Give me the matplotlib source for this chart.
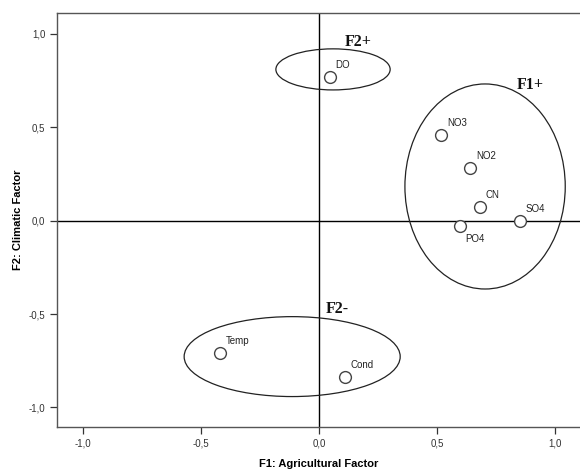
import matplotlib
matplotlib.use("Agg")
import matplotlib.pyplot as plt
from matplotlib.patches import Ellipse
from matplotlib.ticker import FuncFormatter

# Data
labels = ["DO", "NO3", "NO2", "CN", "SO4", "PO4", "Temp", "Cond"]
f1 = [0.047, 0.518, 0.640, 0.682, 0.850, 0.596, -0.419, 0.109]
f2 = [0.771, 0.461, 0.282, 0.071, -0.004, -0.027, -0.711, -0.839]

group_names = ["F2+", "F1+", "F2-"]
group_cx = [0.059, 0.703, -0.114]
group_cy = [0.810, 0.183, -0.728]
group_w = [0.484, 0.679, 0.915]
group_h = [0.220, 1.098, 0.428]

xticks = [-1.0, -0.5, 0.0, 0.5, 1.0]
yticks = [-1.0, -0.5, 0.0, 0.5, 1.0]

fig = plt.figure(figsize=(5.8, 4.7), dpi=100)
ax = fig.add_axes([57/580, 43/470, 523/580, 414/470])
ax.set_xlim(-1.11, 1.105)
ax.set_ylim(-1.105, 1.112)

ax.axhline(0, color="black", lw=1.0, zorder=1)
ax.axvline(0, color="black", lw=1.0, zorder=1)

for cx, cy, w, h in zip(group_cx, group_cy, group_w, group_h):
    ax.add_patch(Ellipse((cx, cy), w, h, fill=False, edgecolor="#222222", lw=0.9, zorder=2))

ax.plot(f1, f2, linestyle="none", marker="o", markersize=8.5, markerfacecolor="white",
        markeredgecolor="#444444", markeredgewidth=1.0, zorder=3)

for lab, x, y in zip(labels, f1, f2):
    if lab == "PO4":
        ax.annotate(lab, (x, y), xytext=(4, -6), textcoords="offset points",
                    fontsize=7, family="Liberation Sans", ha="left", va="top", color="#222222")
    else:
        ax.annotate(lab, (x, y), xytext=(4, 5), textcoords="offset points",
                    fontsize=7, family="Liberation Sans", ha="left", va="bottom", color="#222222")

# Group labels placed relative to their ellipse tops
gl_off = [(0.106, 0.039), (0.191, -0.004), (0.19, 0.043)]
for name, cx, cy, h, (dx, dy) in zip(group_names, group_cx, group_cy, group_h, gl_off):
    ax.text(cx + dx, cy + h / 2 + dy, name, fontsize=11.5, family="Liberation Serif",
            fontweight="bold", ha="center", va="center", color="#111111")

ax.set_xticks(xticks)
ax.set_yticks(yticks)
fmt = FuncFormatter(lambda v, p: f"{v:.1f}".replace(".", ",").replace("-0,0", "0,0"))
ax.xaxis.set_major_formatter(fmt)
ax.yaxis.set_major_formatter(fmt)
ax.tick_params(axis="both", direction="out", length=5, width=0.9, color="#333333",
               labelsize=7, labelcolor="#333333")
for t in ax.get_xticklabels() + ax.get_yticklabels():
    t.set_family("Liberation Sans")

for side in ["left", "bottom", "top"]:
    ax.spines[side].set_color("#555555")
    ax.spines[side].set_linewidth(1.0)
ax.spines["right"].set_visible(False)

ax.set_xlabel("F1: Agricultural Factor", fontsize=8, fontweight="bold", family="Liberation Sans", labelpad=7)
ax.set_ylabel("F2: Climatic Factor", fontsize=8, fontweight="bold", family="Liberation Sans", labelpad=4)

fig.savefig("out.png", dpi=100)
